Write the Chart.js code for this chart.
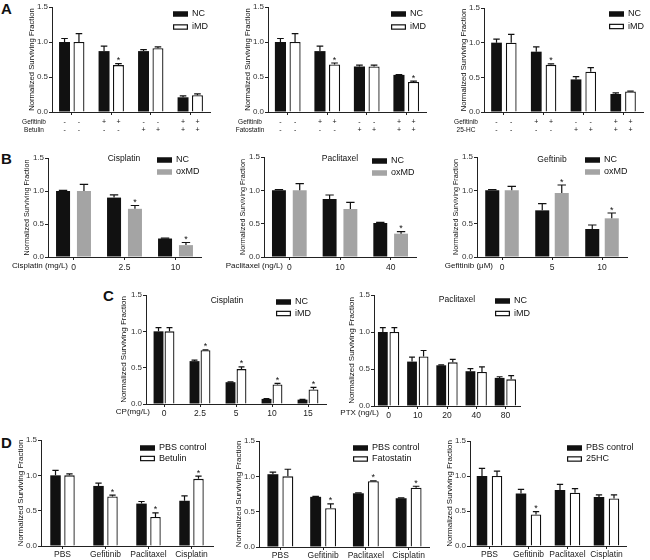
<!DOCTYPE html>
<html>
<head>
<meta charset="utf-8">
<script src="https://cdn.jsdelivr.net/npm/chart.js@4"></script>
<style>
  body { margin: 0; background: #fff; width: 650px; height: 560px; position: relative; overflow: hidden;
         font-family: "Liberation Sans", Arial, sans-serif; }
  .tag { position: absolute; font-weight: bold; font-size: 15px; line-height: 15px; color: #111; }
</style>
</head>
<body>
<div class="tag" style="left:1px;top:1px">A</div>
<div class="tag" style="left:1px;top:151px">B</div>
<div class="tag" style="left:103px;top:288px">C</div>
<div class="tag" style="left:1px;top:435px">D</div>
<script>
// ---- data ----
const aGroups = ['Control', 'Gefitinib', 'Drug', 'Gefitinib + drug'];
const aGefitinib = ['-', '-', '+', '+', '-', '-', '+', '+'];
const aDrug = ['-', '-', '-', '-', '+', '+', '+', '+'];

const a1NC = [1.00, 0.87, 0.87, 0.21];
const a1NCErr = [0.05, 0.07, 0.02, 0.02];
const a1iMD = [1.00, 0.67, 0.91, 0.24];
const a1iMDErr = [0.12, 0.02, 0.02, 0.02];
const a1Sig = [0, 1, 0, 0];

const a2NC = [1.00, 0.87, 0.65, 0.53];
const a2NCErr = [0.05, 0.07, 0.02, 0.005];
const a2iMD = [1.00, 0.68, 0.65, 0.43];
const a2iMDErr = [0.12, 0.02, 0.02, 0.01];
const a2Sig = [0, 1, 0, 1];

const a3NC = [1.00, 0.87, 0.47, 0.26];
const a3NCErr = [0.05, 0.07, 0.04, 0.015];
const a3iMD = [1.00, 0.68, 0.58, 0.295];
const a3iMDErr = [0.12, 0.015, 0.06, 0.005];
const a3Sig = [0, 1, 0, 0];

const b1Doses = ['0', '2.5', '10'];
const b1NC = [1.00, 0.90, 0.28];
const b1NCErr = [0.01, 0.04, 0.005];
const b1ox = [1.00, 0.73, 0.18];
const b1oxErr = [0.10, 0.05, 0.04];
const b1Sig = [0, 1, 1];

const b2Doses = ['0', '10', '40'];
const b2NC = [1.00, 0.87, 0.51];
const b2NCErr = [0.01, 0.06, 0.01];
const b2ox = [1.00, 0.72, 0.35];
const b2oxErr = [0.10, 0.10, 0.03];
const b2Sig = [0, 0, 1];

const b3Doses = ['0', '5', '10'];
const b3NC = [1.00, 0.70, 0.42];
const b3NCErr = [0.01, 0.10, 0.06];
const b3ox = [1.00, 0.96, 0.58];
const b3oxErr = [0.06, 0.12, 0.08];
const b3Sig = [0, 1, 1];

const c1Doses = ['0', '2.5', '5', '10', '15'];
const c1NC = [1.00, 0.59, 0.30, 0.07, 0.06];
const c1NCErr = [0.05, 0.015, 0.005, 0.005, 0.005];
const c1iMD = [1.00, 0.74, 0.48, 0.27, 0.20];
const c1iMDErr = [0.05, 0.005, 0.03, 0.015, 0.03];
const c1Sig = [0, 1, 1, 1, 1];

const c2Doses = ['0', '10', '20', '40', '80'];
const c2NC = [1.00, 0.60, 0.55, 0.47, 0.38];
const c2NCErr = [0.06, 0.06, 0.005, 0.035, 0.015];
const c2iMD = [1.00, 0.67, 0.59, 0.46, 0.36];
const c2iMDErr = [0.06, 0.08, 0.04, 0.07, 0.05];

const dDrugs = ['PBS', 'Gefitinib', 'Paclitaxel', 'Cisplatin'];
const d1PBS = [1.00, 0.85, 0.60, 0.64];
const d1PBSErr = [0.07, 0.04, 0.03, 0.07];
const d1Bet = [1.00, 0.70, 0.41, 0.95];
const d1BetErr = [0.02, 0.02, 0.06, 0.04];
const d1Sig = [0, 1, 1, 1];

const d2PBS = [1.03, 0.71, 0.76, 0.69];
const d2PBSErr = [0.03, 0.005, 0.005, 0.005];
const d2Fato = [1.00, 0.55, 0.93, 0.84];
const d2FatoErr = [0.10, 0.06, 0.005, 0.02];
const d2Sig = [0, 1, 1, 1];

const d3PBS = [1.00, 0.75, 0.80, 0.70];
const d3PBSErr = [0.11, 0.06, 0.08, 0.03];
const d3HC = [1.00, 0.45, 0.76, 0.68];
const d3HCErr = [0.07, 0.04, 0.06, 0.05];
const d3Sig = [0, 1, 0, 0];

const none = [0, 0, 0, 0, 0];

// ---- drawing ----
const FONT = '"Liberation Sans", Arial, sans-serif';
const AXIS = '#222';
Chart.defaults.font.family = FONT;
Chart.defaults.color = '#222';

const STYLE = {
  black: { backgroundColor: '#111', borderWidth: 0 },
  white: { backgroundColor: '#fff', borderColor: '#111', borderWidth: 1.3 },
  grey: { backgroundColor: '#a4a4a4', borderWidth: 0 }
};

function makeDecor(p) {
  const ox = p.box[0], oy = p.box[1];
  return {
    id: 'decor',
    afterDraw(chart) {
      const ctx = chart.ctx, a = chart.chartArea, y = chart.scales.y;
      const n = chart.data.datasets.length;
      ctx.save();
      ctx.fillStyle = '#111';
      ctx.strokeStyle = '#111';
      chart.data.datasets.forEach((ds, di) => {
        chart.getDatasetMeta(di).data.forEach((bar, i) => {
          const top = y.getPixelForValue(ds.data[i] + ds.err[i]);
          const half = bar.width * 0.3;
          ctx.lineWidth = 1.2;
          ctx.beginPath();
          ctx.moveTo(bar.x, bar.y);
          ctx.lineTo(bar.x, top);
          ctx.moveTo(bar.x - half, top);
          ctx.lineTo(bar.x + half, top);
          ctx.stroke();
          if (ds.sig[i]) {
            ctx.font = '9px ' + FONT;
            ctx.textAlign = 'center';
            ctx.textBaseline = 'alphabetic';
            ctx.fillText('*', bar.x, top - 0.5);
          }
          if (p.rows) {
            ctx.font = '7px ' + FONT;
            ctx.textAlign = 'center';
            ctx.textBaseline = 'middle';
            p.rows.forEach((r, ri) => ctx.fillText(r.marks[i * n + di], bar.x, p.rowY[ri] - oy));
          }
        });
      });
      // row names under the A panels
      if (p.rows) {
        ctx.font = '6.5px ' + FONT;
        ctx.textAlign = 'center';
        ctx.textBaseline = 'middle';
        p.rows.forEach((r, ri) => ctx.fillText(r.name, p.rowX - ox, p.rowY[ri] - oy));
      }
      // y title
      ctx.save();
      ctx.translate(a.left - (p.ytOff || 20.5), (a.top + a.bottom) / 2);
      ctx.rotate(-Math.PI / 2);
      ctx.font = p.ytSize + 'px ' + FONT;
      ctx.textAlign = 'center';
      ctx.textBaseline = 'middle';
      ctx.fillText('Normalized Surviving Fraction', 0, 0);
      ctx.restore();
      // legend
      const [lx, ly, ldy] = p.legend;
      chart.data.datasets.forEach((ds, di) => {
        const yy = ly + di * ldy - oy;
        ctx.fillStyle = ds.backgroundColor;
        ctx.fillRect(lx - ox, yy - 2.75, 15, 5.5);
        if (ds.borderWidth) {
          ctx.lineWidth = 1.2;
          ctx.strokeRect(lx - ox + 0.6, yy - 2.75 + 0.6, 13.8, 4.3);
        }
        ctx.fillStyle = '#111';
        ctx.font = '9px ' + FONT;
        ctx.textAlign = 'left';
        ctx.textBaseline = 'middle';
        ctx.fillText(ds.label, lx - ox + 19, yy);
      });
      // chart title
      if (p.title) {
        ctx.font = '8.5px ' + FONT;
        ctx.textAlign = 'center';
        ctx.textBaseline = 'middle';
        ctx.fillText(p.title[0], p.title[1] - ox, p.title[2] - oy);
      }
      // x axis label at the tick row
      if (p.xlab) {
        ctx.font = '8px ' + FONT;
        ctx.textAlign = 'right';
        ctx.textBaseline = 'middle';
        ctx.fillText(p.xlab[0], p.xlab[1] - ox, p.xlab[2] - oy);
      }
      ctx.restore();
    }
  };
}

function build(p) {
  const [bx, by, bw, bh] = p.box;
  const [pl, pr, pt, pb] = p.plot;
  const cv = document.createElement('canvas');
  cv.width = bw;
  cv.height = bh;
  cv.style.cssText = `position:absolute;left:${bx}px;top:${by}px;width:${bw}px;height:${bh}px`;
  document.body.appendChild(cv);
  new Chart(cv, {
    type: 'bar',
    data: {
      labels: p.labels,
      datasets: p.series.map(s => Object.assign({
        label: s[0], data: s[1], err: s[2], sig: s[3],
        categoryPercentage: p.cp, barPercentage: p.bp
      }, STYLE[s[4]]))
    },
    options: {
      responsive: false,
      animation: false,
      devicePixelRatio: 1,
      layout: { padding: { left: 0, top: pt - by, right: bx + bw - pr, bottom: 0 } },
      plugins: { legend: { display: false }, tooltip: { enabled: false } },
      scales: {
        x: {
          offset: true,
          grid: { drawOnChartArea: false, drawTicks: true, tickLength: 3, offset: false, color: AXIS },
          border: { color: AXIS, width: 1 },
          ticks: { display: p.ticks !== false, font: { size: 8.5 }, padding: p.tickPad || 1,
                   color: '#222', maxRotation: 0, minRotation: 0, autoSkip: false },
          afterFit: s => { s.height = by + bh - pb; }
        },
        y: {
          min: 0, max: 1.5,
          grid: { drawOnChartArea: false, drawTicks: true, tickLength: 3, color: AXIS },
          border: { color: AXIS, width: 1 },
          ticks: { stepSize: 0.5, font: { size: 8 }, padding: 1, color: '#333',
                   callback: v => v.toFixed(1) },
          afterFit: s => { s.width = pl - bx; }
        }
      }
    },
    plugins: [makeDecor(p)]
  });
}

build({ box: [0, 0, 215, 140], plot: [52, 210, 7, 112], cp: 0.73, bp: 0.76, ticks: false, ytSize: 7.7,
  labels: aGroups, legend: [173, 14, 13], rowX: 34, rowY: [122, 130],
  rows: [{ name: 'Gefitinib', marks: aGefitinib }, { name: 'Betulin', marks: aDrug }],
  series: [['NC', a1NC, a1NCErr, none, 'black'], ['iMD', a1iMD, a1iMDErr, a1Sig, 'white']] });

build({ box: [215, 0, 215, 140], plot: [268, 426, 7, 112], cp: 0.74, bp: 0.76, ticks: false, ytSize: 7.7,
  labels: aGroups, legend: [391, 14, 13], rowX: 250, rowY: [122, 130],
  rows: [{ name: 'Gefitinib', marks: aGefitinib }, { name: 'Fatostatin', marks: aDrug }],
  series: [['NC', a2NC, a2NCErr, none, 'black'], ['iMD', a2iMD, a2iMDErr, a2Sig, 'white']] });

build({ box: [430, 0, 220, 140], plot: [484, 643, 8, 112], cp: 0.74, bp: 0.73, ticks: false, ytSize: 7.7,
  labels: aGroups, legend: [609, 14, 12.5], rowX: 466, rowY: [122, 130],
  rows: [{ name: 'Gefitinib', marks: aGefitinib }, { name: '25-HC', marks: aDrug }],
  series: [['NC', a3NC, a3NCErr, none, 'black'], ['iMD', a3iMD, a3iMDErr, a3Sig, 'white']] });

build({ box: [0, 140, 215, 135], plot: [48, 201, 158, 257], cp: 0.82, bp: 0.67, tickPad: 3, ytSize: 7.2,
  labels: b1Doses, legend: [157, 160, 12], title: ['Cisplatin', 124, 159], xlab: ['Cisplatin (mg/L)', 68, 266],
  series: [['NC', b1NC, b1NCErr, none, 'black'], ['oxMD', b1ox, b1oxErr, b1Sig, 'grey']] });

build({ box: [215, 140, 215, 135], plot: [264, 416, 157, 257], cp: 0.82, bp: 0.67, tickPad: 3, ytSize: 7.2,
  labels: b2Doses, legend: [372, 161, 12], title: ['Paclitaxel', 340, 159], xlab: ['Paclitaxel (ng/L)', 283, 266],
  series: [['NC', b2NC, b2NCErr, none, 'black'], ['oxMD', b2ox, b2oxErr, b2Sig, 'grey']] });

build({ box: [430, 140, 220, 135], plot: [477, 627, 157, 257], cp: 0.78, bp: 0.72, tickPad: 3, ytSize: 7.2,
  labels: b3Doses, legend: [585, 160, 12], title: ['Geftinib', 552, 160], xlab: ['Gefitinib (\u03bcM)', 493, 266],
  series: [['NC', b3NC, b3NCErr, none, 'black'], ['oxMD', b3ox, b3oxErr, b3Sig, 'grey']] });

build({ box: [100, 280, 235, 140], plot: [146, 326, 295, 404], cp: 0.61, bp: 0.9, tickPad: 2, ytSize: 8, ytOff: 22.5,
  labels: c1Doses, legend: [276, 302, 11.5], title: ['Cisplatin', 227, 301], xlab: ['CP(mg/L)', 150, 412],
  series: [['NC', c1NC, c1NCErr, none, 'black'], ['iMD', c1iMD, c1iMDErr, c1Sig, 'white']] });

build({ box: [330, 280, 240, 140], plot: [374, 520, 295, 406], cp: 0.79, bp: 0.85, tickPad: 2, ytSize: 8, ytOff: 22.5,
  labels: c2Doses, legend: [495, 301, 12.5], title: ['Paclitaxel', 457, 300], xlab: ['PTX (ng/L)', 379, 413],
  series: [['NC', c2NC, c2NCErr, none, 'black'], ['iMD', c2iMD, c2iMDErr, none, 'white']] });

build({ box: [0, 415, 215, 145], plot: [41, 213, 440, 546], cp: 0.65, bp: 0.75, tickPad: 1, ytSize: 8,
  labels: dDrugs, legend: [140, 448, 10.5],
  series: [['PBS control', d1PBS, d1PBSErr, none, 'black'], ['Betulin', d1Bet, d1BetErr, d1Sig, 'white']] });

build({ box: [215, 415, 215, 145], plot: [259, 431, 441, 547], cp: 0.7, bp: 0.73, tickPad: 1, ytSize: 8,
  labels: dDrugs, legend: [353, 448, 11],
  series: [['PBS control', d2PBS, d2PBSErr, none, 'black'], ['Fatostatin', d2Fato, d2FatoErr, d2Sig, 'white']] });

build({ box: [430, 415, 220, 145], plot: [470, 626, 441, 546], cp: 0.77, bp: 0.7, tickPad: 1, ytSize: 8,
  labels: dDrugs, legend: [567, 448, 11],
  series: [['PBS control', d3PBS, d3PBSErr, none, 'black'], ['25HC', d3HC, d3HCErr, d3Sig, 'white']] });
</script>
</body>
</html>
